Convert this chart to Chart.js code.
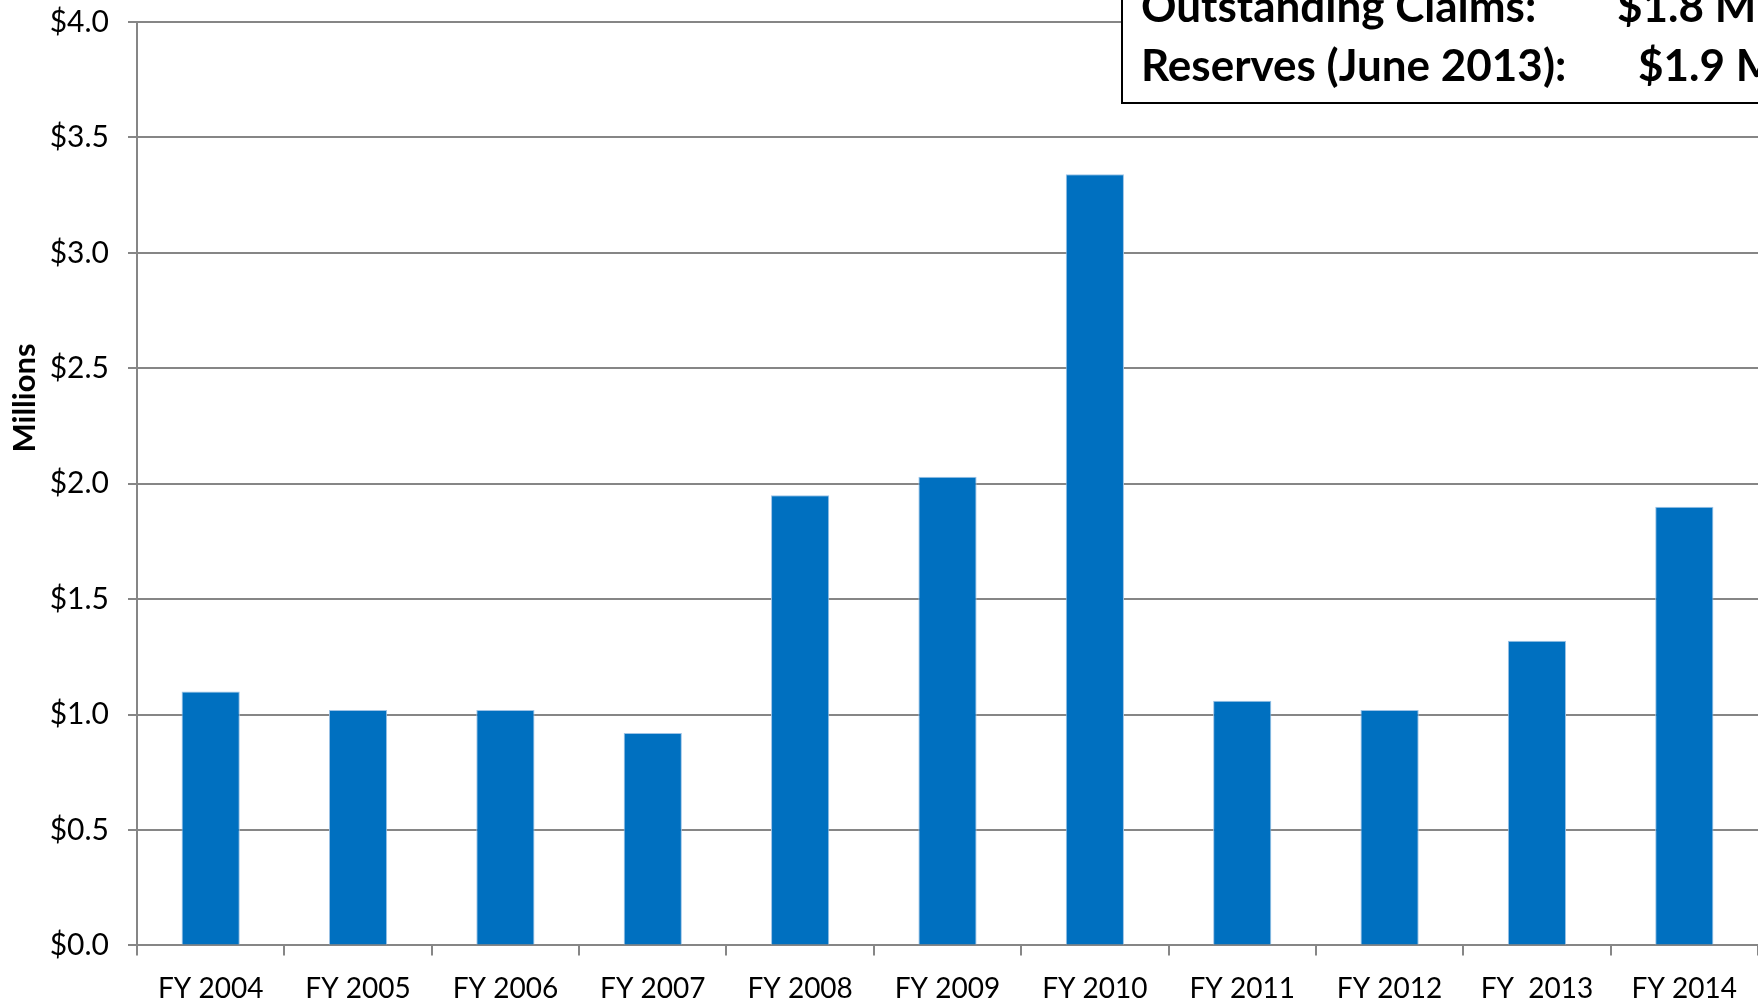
<!DOCTYPE html>
<html>
<head>
<meta charset="utf-8">
<script src="https://cdn.jsdelivr.net/npm/chart.js@4"></script>
<style>
  html, body { margin: 0; padding: 0; background: #fff; }
  canvas { display: block; }
</style>
</head>
<body>
<canvas id="claimsChart" width="1758" height="1000"></canvas>
<script>
// Data
const years = ["FY 2004", "FY 2005", "FY 2006", "FY 2007", "FY 2008", "FY 2009",
               "FY 2010", "FY 2011", "FY 2012", "FY  2013", "FY 2014"];
const claims = [1.10, 1.02, 1.02, 0.92, 1.95, 2.03, 3.34, 1.06, 1.02, 1.32, 1.90];
const boxLabels = ["Outstanding Claims:", "Reserves (June 2013):"];
const boxValues = ["$1.8 M", "$1.9 M"];
const axisTitle = "Millions";

// Axis title (sits above the middle of the axis) and the info box in the top right corner
const extras = {
    id: 'extras',
    afterDraw(chart) {
        const c = chart.ctx;
        c.save();
        c.fillStyle = '#000';
        c.font = 'bold 31px Lato';
        c.textAlign = 'center';
        c.textBaseline = 'middle';
        c.translate(25, 398);
        c.rotate(-Math.PI / 2);
        c.fillText(axisTitle, 0, 0);
        c.restore();

        c.save();
        c.fillStyle = '#fff';
        c.fillRect(1122, -10, 700, 113);
        c.strokeStyle = '#000';
        c.lineWidth = 2;
        c.strokeRect(1122, -10, 700, 113);
        c.fillStyle = '#000';
        c.font = 'bold 44px Lato';
        c.textBaseline = 'alphabetic';
        c.fillText(boxLabels[0], 1141, 22);
        c.fillText(boxValues[0], 1617, 22);
        c.fillText(boxLabels[1], 1141, 81);
        c.fillText(boxValues[1], 1638, 81);
        c.restore();
    }
};

const ctx = document.getElementById('claimsChart').getContext('2d');
const claimsChart = new Chart(ctx, {
    type: 'bar',
    data: {
        labels: years,
        datasets: [{
            data: claims,
            backgroundColor: '#0070C0',
            borderColor: '#9DC3E6',
            borderWidth: 1,
            barPercentage: 0.395,
            categoryPercentage: 1
        }]
    },
    options: {
        responsive: false,
        animation: false,
        layout: { padding: { top: 22, right: 0, bottom: -23, left: 0 } },
        plugins: {
            legend: { display: false },
            tooltip: { enabled: false }
        },
        scales: {
            x: {
                grid: {
                    offset: true,
                    drawOnChartArea: false,
                    drawTicks: true,
                    tickLength: 10,
                    color: '#868686',
                    lineWidth: 2
                },
                border: { color: '#868686', width: 2 },
                ticks: {
                    color: '#000',
                    font: { family: 'Lato', size: 28 },
                    padding: 17,
                    maxRotation: 0,
                    autoSkip: false
                }
            },
            y: {
                min: 0,
                max: 4,
                afterFit(scale) {
                    scale.width = 137;
                    scale.paddingTop = 0;
                    scale.paddingBottom = 0;
                },
                grid: {
                    color: '#868686',
                    lineWidth: 2,
                    tickLength: 9
                },
                border: { color: '#868686', width: 2 },
                ticks: {
                    stepSize: 0.5,
                    color: '#000',
                    font: { family: 'Lato', size: 30 },
                    padding: 19,
                    callback: v => '$' + v.toFixed(1)
                }
            }
        }
    },
    plugins: [extras]
});
</script>
</body>
</html>
